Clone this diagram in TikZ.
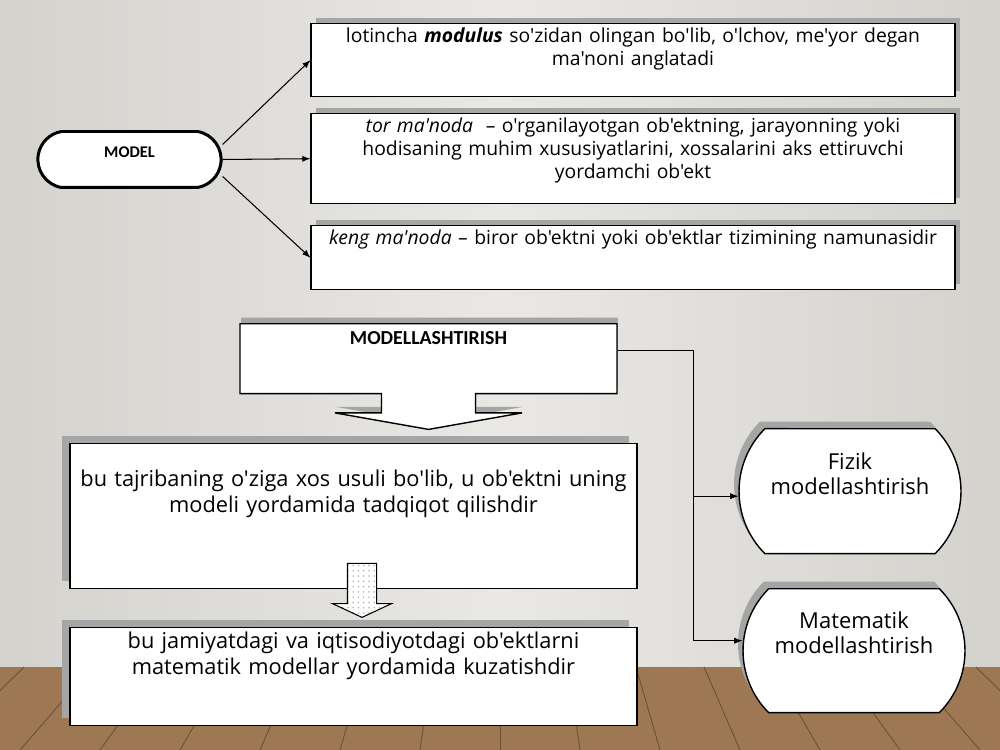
\documentclass[tikz,border=0pt]{standalone}
\usepackage{fontspec}
\setmainfont{Open Sans}
\newfontfamily\boxfont{Open Sans}
\newfontfamily\capfont{Carlito}
\usetikzlibrary{shapes.misc, shapes.arrows, arrows, shadows, patterns, calc}

\definecolor{wallside}{RGB}{212,210,205}
\definecolor{wallmid}{RGB}{233,232,229}
\definecolor{wood}{RGB}{158,120,82}
\definecolor{wooddark}{RGB}{110,80,52}
\definecolor{shade}{RGB}{165,165,165}

\begin{document}
\begin{tikzpicture}[x=0.02cm, y=-0.02cm]
\tikzstyle{line}=[draw, line width=0.6pt]
\tikzstyle{arrow}=[draw, line width=0.6pt, -latex]
\tikzstyle{modelbox}=[rounded rectangle, rounded rectangle arc length=160, draw=black, line width=1.7pt, fill=white, anchor=north, minimum width=3.9cm, inner ysep=0pt, text height=0.52cm, text depth=0.6cm, font=\capfont\bfseries\fontsize{9.3}{11}\selectfont]
\tikzstyle{topbox}=[rectangle, draw=black, line width=0.8pt, fill=white, anchor=north, text width=12.68cm, align=center, inner xsep=0.1cm, inner ysep=0.1cm, text height=0.28cm, font=\boxfont\fontsize{11}{13}\selectfont, drop shadow={shadow xshift=0.1cm, shadow yshift=0.12cm, fill=shade, opacity=1}]
\tikzstyle{flowbox}=[arrow box, draw=black, line width=0.8pt, fill=white, anchor=north, minimum width=7.54cm, inner ysep=0pt, text height=0.41cm, text depth=0.99cm, arrow box arrows={south:0.7cm}, arrow box shaft width=1.88cm, arrow box head extend=0.93cm, arrow box tip angle=160, font=\capfont\bfseries\fontsize{11.3}{13}\selectfont, drop shadow={shadow xshift=0.02cm, shadow yshift=0.12cm, fill=shade, opacity=1}]
\tikzstyle{lowbox}=[rectangle, draw=black, line width=0.8pt, fill=white, anchor=north, text width=11.14cm, align=center, inner xsep=0.1cm, inner ysep=0.1cm, font=\boxfont\fontsize{12.4}{14.8}\selectfont, drop shadow={shadow xshift=-0.16cm, shadow yshift=0.16cm, fill=shade, opacity=1}]
\tikzstyle{kind}=[rounded rectangle, rounded rectangle arc length=90, draw=black, line width=0.8pt, fill=white, anchor=north, minimum width=4.6cm, text width=3.4cm, align=center, inner xsep=0.08cm, inner ysep=0pt, font=\boxfont\fontsize{12.5}{14.3}\selectfont, drop shadow={shadow xshift=-0.1cm, shadow yshift=0.14cm, fill=shade, opacity=1}]
\tikzstyle{blockdown}=[single arrow, draw=black, line width=0.6pt, rotate=-90, minimum height=1.08cm, minimum width=1.18cm, single arrow head extend=0.3cm, single arrow tip angle=130, inner xsep=0pt, inner ysep=0.28cm, preaction={fill=white}, pattern=dots, pattern color=gray!60]

\useasboundingbox (0,0) rectangle (1000,750);
% wall and floor
\fill[left color=wallside, right color=wallside, middle color=wallmid] (0,0) rectangle (1000,667);
\fill[wood] (0,667) rectangle (1000,750);
\foreach \x in {-700,-620,...,1700}
  \draw[wooddark, line width=0.5pt] ({500+(\x-500)*0.85},667) -- (\x,750);

\node (model) [modelbox] at (129.5,130) {MODEL};
\node (meaning) [topbox, text depth=0.98cm] at (633,23) {lotincha \textbf{\textit{modulus}} so'zidan olingan bo'lib, o'lchov, me'yor degan\\ ma'noni anglatadi};
\node (narrow) [topbox, text depth=1.32cm] at (633,113) {\textit{tor ma'noda}~ – o'rganilayotgan ob'ektning, jarayonning yoki\\ hodisaning muhim xususiyatlarini, xossalarini aks ettiruvchi\\ yordamchi ob'ekt};
\node (broad) [topbox, text depth=0.80cm] at (633,225) {\textit{keng ma'noda} – biror ob'ektni yoki ob'ektlar tizimining namunasidir};

\node (modelling) [flowbox] at (428.5,323) {MODELLASHTIRISH};
\node (study) [lowbox, text height=0.76cm, text depth=1.94cm] at (353.5,443) {bu tajribaning o'ziga xos usuli bo'lib, u ob'ektni uning\\ modeli yordamida tadqiqot qilishdir};
\node (down) [blockdown] at (362,587) {};
\node (econ) [lowbox, text height=0.32cm, text depth=1.44cm] at (353.5,627) {bu jamiyatdagi va iqtisodiyotdagi ob'ektlarni\\ matematik modellar yordamida kuzatishdir};

\node (physical) [kind, text height=0.82cm, text depth=1.68cm] at (850,428) {Fizik\\ modellashtirish};
\node (math) [kind, text height=0.8cm, text depth=1.68cm] at (854,588) {Matematik\\ modellashtirish};

\draw [arrow] ([yshift=0.3cm]model.east) -- (meaning.west);
\draw [arrow] (model.east) -- (narrow.west);
\draw [arrow] ([yshift=-0.34cm]model.east) -- (broad.west);

\coordinate (bus) at ([shift={(1.52cm,0.16cm)}]modelling.east);
\draw [line] ([yshift=0.16cm]modelling.east) -- (bus);
\draw [arrow] (bus) |- ([yshift=-0.1cm]physical.west);
\draw [arrow] (bus) |- ([yshift=0.2cm]math.west);

\end{tikzpicture}
\end{document}
